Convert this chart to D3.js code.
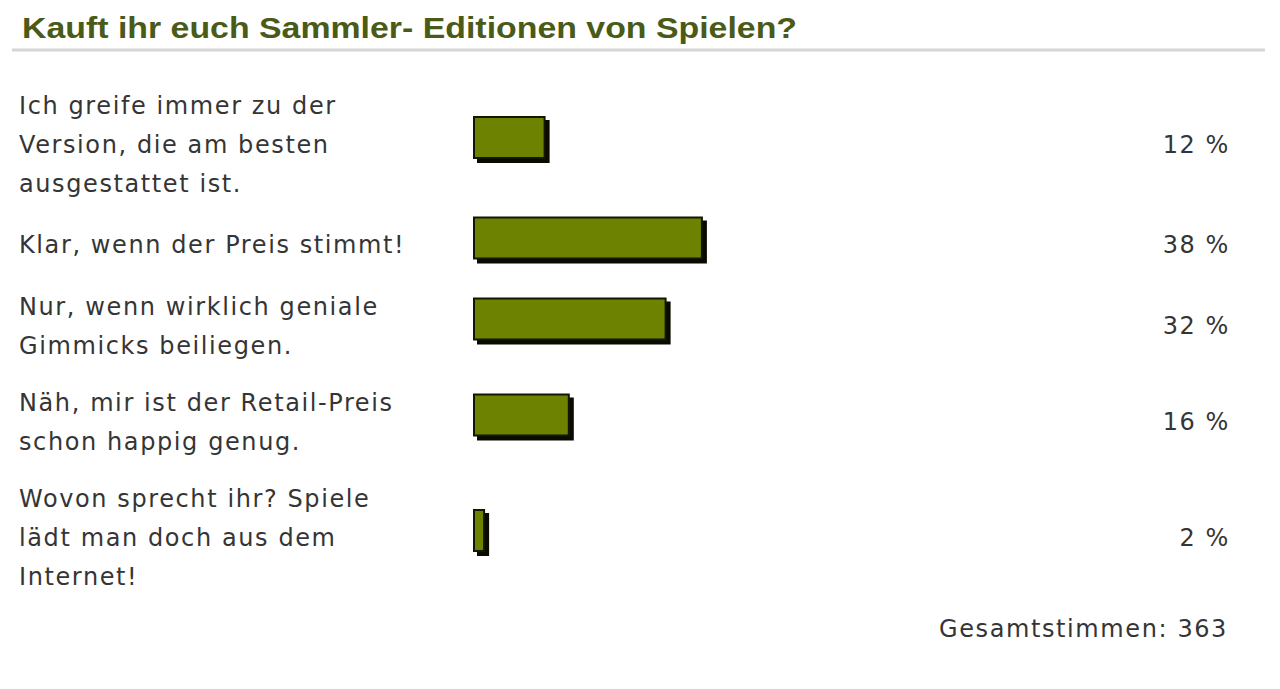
<!DOCTYPE html>
<html>
<head>
<meta charset="utf-8">
<script src="https://cdn.jsdelivr.net/npm/d3@7"></script>
<style>
  html, body { margin: 0; padding: 0; background: #fff; }
  svg { display: block; }
</style>
</head>
<body>
<svg id="poll"></svg>
<script>
// poll data
const title = "Kauft ihr euch Sammler- Editionen von Spielen?";
const answers = [
  ["Ich greife immer zu der", "Version, die am besten", "ausgestattet ist."],
  ["Klar, wenn der Preis stimmt!"],
  ["Nur, wenn wirklich geniale", "Gimmicks beiliegen."],
  ["Näh, mir ist der Retail-Preis", "schon happig genug."],
  ["Wovon sprecht ihr? Spiele", "lädt man doch aus dem", "Internet!"],
];
const percents = [12, 38, 32, 16, 2];
const totalVotes = 363;

const width = 1280;
const height = 689;
const lineH = 39;
const rowGap = 18;
const minRowH = 48;
const barH = 43;

const bodyFont = "'DejaVu Sans', Verdana, sans-serif";
const bodySize = "24px";
const spacing = "1.6px";

const svg = d3.select("#poll").attr("width", width).attr("height", height);

svg.append("rect").attr("width", width).attr("height", height).attr("fill", "#fff");

// title + rule under it
svg.append("text")
  .text(title)
  .attr("x", 22)
  .attr("y", 38)
  .attr("textLength", 775)
  .attr("lengthAdjust", "spacingAndGlyphs")
  .style("font-family", "'Liberation Sans Narrow', 'Arial Narrow', 'Liberation Sans', Arial, sans-serif")
  .style("font-weight", "bold")
  .style("font-size", "29px")
  .attr("fill", "#4a5a17");

svg.append("line")
  .attr("x1", 12).attr("x2", 1265)
  .attr("y1", 50).attr("y2", 50)
  .attr("stroke", "#d6d6d6")
  .attr("stroke-width", 3);

// row centres from the number of label lines (a row is never lower than its bar)
const rows = [];
let y = 86;
answers.forEach((lines, i) => {
  const h = Math.max(lines.length * lineH, minRowH);
  rows.push({ lines, pct: percents[i], center: y + h / 2 });
  y += h + rowGap;
});

const x = d3.scaleLinear().domain([0, 100]).range([473, 473 + 605]);

const row = svg.selectAll("g.row").data(rows).join("g").attr("class", "row");

row.each(function (d) {
  const g = d3.select(this);
  const n = d.lines.length;
  d.lines.forEach((t, k) => {
    g.append("text")
      .text(t)
      .attr("x", 19)
      .attr("y", d.center + (k - (n - 1) / 2) * lineH + 8)
      .style("font-family", bodyFont)
      .style("font-size", bodySize)
      .style("letter-spacing", spacing)
      .attr("fill", "#353535");
  });
});

// shadow
row.append("rect")
  .attr("x", x(0) + 4)
  .attr("y", (d) => d.center - 28.5 + 4)
  .attr("width", (d) => x(d.pct) - x(0))
  .attr("height", barH)
  .attr("fill", "#0a0a00");

row.append("rect")
  .attr("x", x(0) + 1)
  .attr("y", (d) => d.center - 28.5 + 1)
  .attr("width", (d) => x(d.pct) - x(0) - 2)
  .attr("height", barH - 2)
  .attr("fill", "#6c8200")
  .attr("stroke", "#151500")
  .attr("stroke-width", 2);

row.append("text")
  .text((d) => d.pct + " %")
  .attr("x", 1230)
  .attr("y", (d) => d.center + 8)
  .attr("text-anchor", "end")
  .style("font-family", bodyFont)
  .style("font-size", bodySize)
  .style("letter-spacing", spacing)
  .attr("fill", "#353535");

svg.append("text")
  .text("Gesamtstimmen: " + totalVotes)
  .attr("x", 1228)
  .attr("y", 637)
  .attr("text-anchor", "end")
  .style("font-family", bodyFont)
  .style("font-size", bodySize)
  .style("letter-spacing", spacing)
  .attr("fill", "#353535");
</script>
</body>
</html>
